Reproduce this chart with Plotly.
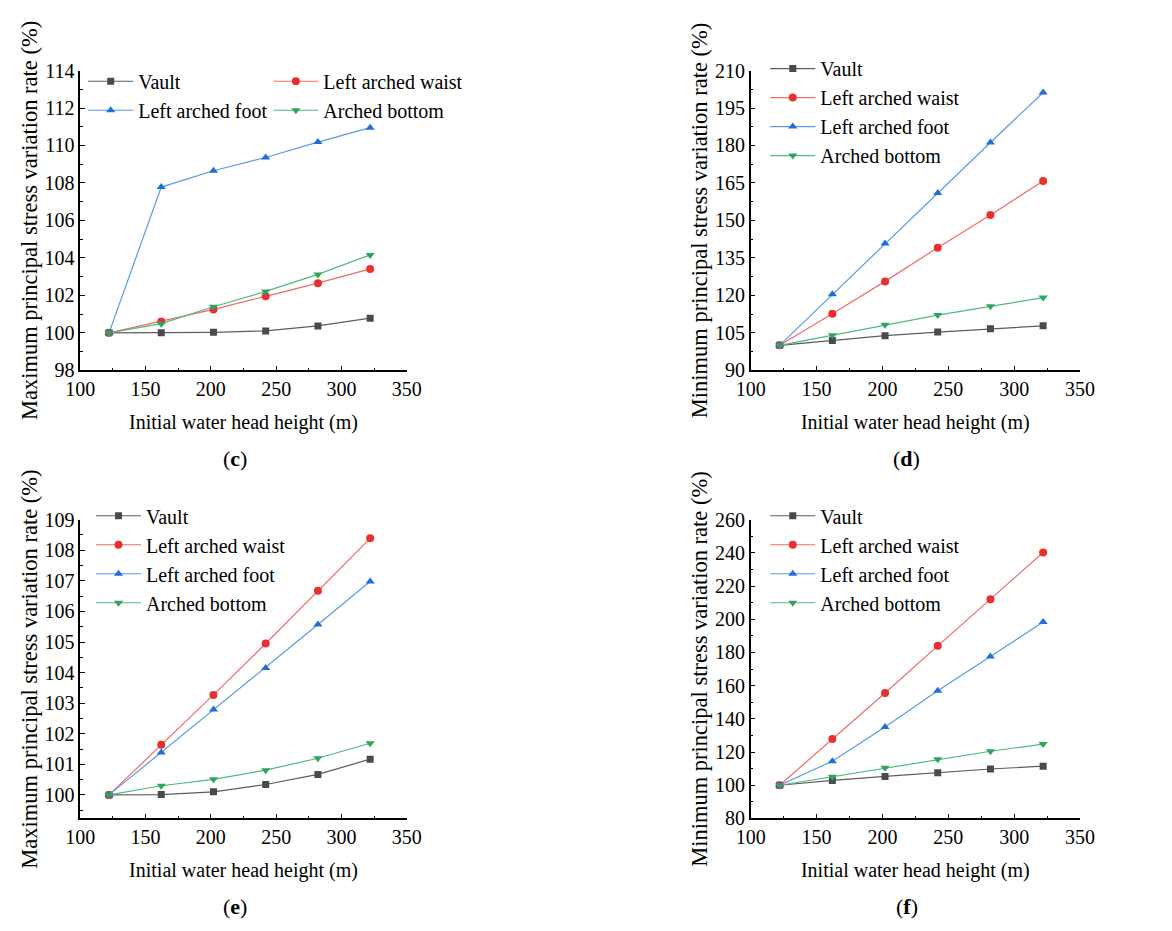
import plotly.graph_objects as go

# ---------------- data ----------------
x_head = [122, 162, 202, 242, 282, 322]
series_names = ["Vault", "Left arched waist", "Left arched foot", "Arched bottom"]

c_vault = [100, 100.0, 100.03, 100.1, 100.37, 100.78]
c_waist = [100, 100.61, 101.25, 101.95, 102.65, 103.41]
c_foot = [100, 107.78, 108.65, 109.36, 110.18, 110.95]
c_bottom = [100, 100.49, 101.39, 102.21, 103.12, 104.16]

d_vault = [100, 101.9, 103.85, 105.3, 106.6, 107.8]
d_waist = [100, 112.6, 125.6, 139.1, 152.2, 165.8]
d_foot = [100, 120.4, 140.8, 161.0, 181.2, 201.2]
d_bottom = [100, 104.0, 108.2, 112.1, 115.6, 119.1]

e_vault = [100, 100.01, 100.1, 100.34, 100.67, 101.17]
e_waist = [100, 101.64, 103.27, 104.95, 106.68, 108.39]
e_foot = [100, 101.39, 102.79, 104.15, 105.57, 106.98]
e_bottom = [100, 100.3, 100.51, 100.81, 101.2, 101.69]

f_vault = [100, 102.9, 105.3, 107.6, 109.8, 111.5]
f_waist = [100, 127.8, 155.6, 184.0, 212.0, 240.2]
f_foot = [100, 114.5, 135.1, 157.0, 177.6, 198.3]
f_bottom = [100, 105.1, 110.6, 115.7, 120.5, 124.8]

max_title = "Maximum principal stress variation rate (%)"
min_title = "Minimum principal stress variation rate (%)"
x_title = "Initial water head height (m)"
panel_labels = ["c", "d", "e", "f"]

# ---------------- style ----------------
W, H = 1172, 931
FONT = "Liberation Serif"
line_cols = ["#5c5c5c", "#f26b6b", "#5a9ae6", "#52b97e"]
mark_cols = ["#4a4a4a", "#e8302f", "#1f6fd8", "#2ea55f"]
symbols = ["square", "circle", "triangle-up", "triangle-down"]
msizes = [7, 8, 8, 8]


def px(x):
    return x / W


def py(y):
    return 1 - y / H


fig = go.Figure()

panels = [
    dict(ys=[c_vault, c_waist, c_foot, c_bottom], ax=1, rng=[98, 114], dt=2, mdt=1, t0=98,
         xd=[67, 402], yd=[61, 368], title=max_title),
    dict(ys=[d_vault, d_waist, d_foot, d_bottom], ax=2, rng=[90, 210], dt=15, mdt=7.5, t0=90,
         xd=[755, 1093], yd=[61, 368], title=min_title),
    dict(ys=[e_vault, e_waist, e_foot, e_bottom], ax=3, rng=[99.23, 109], dt=1, mdt=0.5, t0=100,
         xd=[67, 402], yd=[521, 827], title=max_title),
    dict(ys=[f_vault, f_waist, f_foot, f_bottom], ax=4, rng=[80, 260], dt=20, mdt=10, t0=80,
         xd=[755, 1093], yd=[521, 827], title=min_title),
]

# legend assignment: panel c uses two legend columns
legend_ids = [
    ["legend", "legend2", "legend", "legend2"],
    ["legend3"] * 4,
    ["legend4"] * 4,
    ["legend5"] * 4,
]

for pi, p in enumerate(panels):
    n = p["ax"]
    xa = "x" if n == 1 else f"x{n}"
    ya = "y" if n == 1 else f"y{n}"
    for si in range(4):
        fig.add_trace(go.Scatter(
            x=x_head, y=p["ys"][si], name=series_names[si], mode="lines+markers",
            xaxis=xa, yaxis=ya, legend=legend_ids[pi][si],
            line=dict(color=line_cols[si], width=1.2),
            marker=dict(symbol=symbols[si], size=msizes[si], color=mark_cols[si]),
        ))
    axis_common = dict(showline=True, linecolor="black", linewidth=1.5, showgrid=False,
                       zeroline=False, ticks="inside", ticklen=5, tickwidth=1.2,
                       tickcolor="black", tickfont=dict(family=FONT, size=20, color="black"))
    xkey = "xaxis" if n == 1 else f"xaxis{n}"
    ykey = "yaxis" if n == 1 else f"yaxis{n}"
    fig.update_layout({
        xkey: dict(domain=[px(p["xd"][0]), px(p["xd"][1])], anchor=ya, range=[100, 350],
                   dtick=50, tick0=100,
                   minor=dict(dtick=25, tick0=100, ticks="inside", ticklen=3, tickcolor="black"),
                   title=dict(text=x_title, font=dict(family=FONT, size=20, color="black"), standoff=16),
                   **axis_common),
        ykey: dict(domain=[py(p["yd"][1]), py(p["yd"][0])], anchor=xa, range=p["rng"],
                   dtick=p["dt"], tick0=p["t0"],
                   minor=dict(dtick=p["mdt"], tick0=p["t0"], ticks="inside", ticklen=3, tickcolor="black"),
                   title=dict(text=p["title"], font=dict(family=FONT, size=22.5, color="black"), standoff=1),
                   **axis_common),
    })
    cx = (p["xd"][0] + p["xd"][1]) / 2 - 9
    fig.add_annotation(xref="paper", yref="paper", x=px(cx), y=py(p["yd"][1] + 90),
                       xanchor="center", yanchor="middle",
                       text=f"(<b>{panel_labels[pi]}</b>)", showarrow=False,
                       font=dict(family=FONT, size=22, color="black"))

leg_font = dict(family=FONT, size=20, color="black")
leg_common = dict(bgcolor="rgba(0,0,0,0)", font=leg_font, xanchor="left", yanchor="top",
                  itemwidth=45, tracegroupgap=0)
fig.update_layout(
    legend=dict(x=px(70), y=py(52), **leg_common),
    legend2=dict(x=px(260), y=py(52), **leg_common),
    legend3=dict(x=px(770), y=py(39), **leg_common),
    legend4=dict(x=px(78), y=py(497), **leg_common),
    legend5=dict(x=px(770), y=py(497), **leg_common),
)

fig.update_layout(width=W, height=H, margin=dict(l=0, r=0, t=0, b=0),
                  plot_bgcolor="white", paper_bgcolor="white", showlegend=True,
                  font=dict(family=FONT, color="black"))

fig.write_html("out.html")
